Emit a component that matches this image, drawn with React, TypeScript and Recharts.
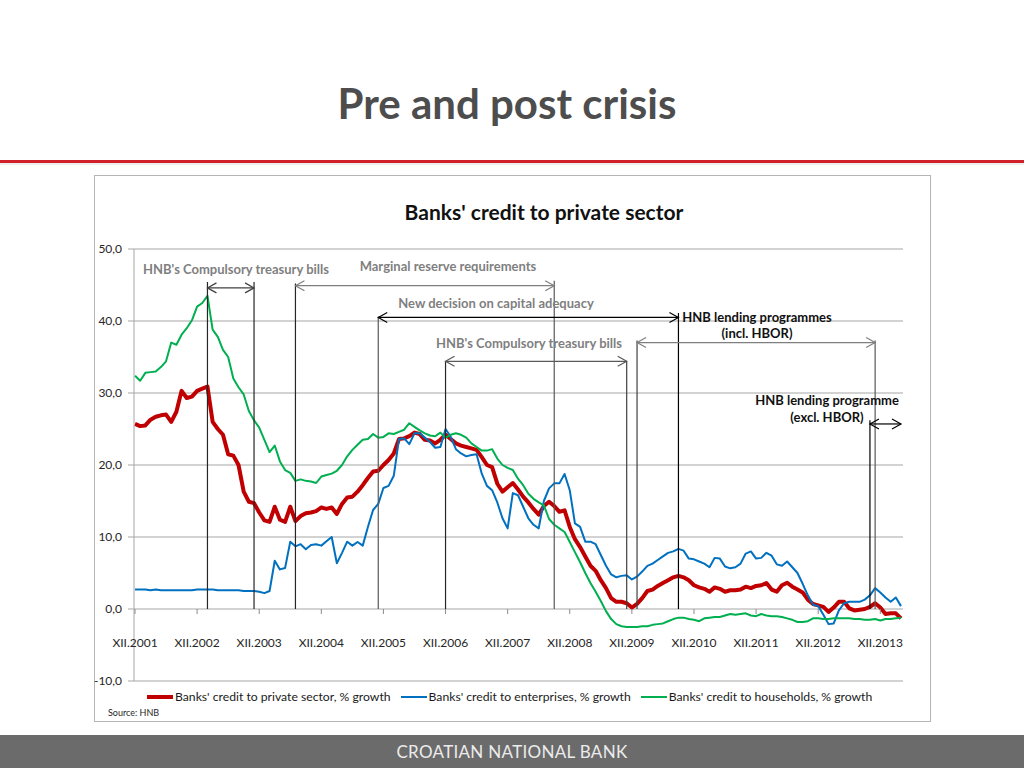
import React from "react";
import { CartesianGrid, Line, LineChart, ReferenceLine, XAxis, YAxis } from "recharts";

const ROMAN = ["I", "II", "III", "IV", "V", "VI", "VII", "VIII", "IX", "X", "XI", "XII"];

// monthly, XII.2001 .. IV.2014 (one row per 12 months)
const categories: string[] = [];
for (let i = 0; i < 149; i++) {
  categories.push(`${ROMAN[(11 + i) % 12]}.${2001 + Math.floor((11 + i) / 12)}`);
}
const xTicks = categories.filter((c) => c.startsWith("XII."));

const privateSector = [
  25.7, 25.4, 25.5, 26.3, 26.7, 26.9, 27.0, 26.0, 27.4, 30.3, 29.3, 29.5,
  30.3, 30.6, 30.9, 26.0, 25.0, 24.2, 21.5, 21.3, 20.0, 16.3, 14.9, 14.7,
  13.4, 12.3, 12.1, 14.2, 12.4, 12.1, 14.2, 12.2, 12.9, 13.3, 13.4, 13.6,
  14.1, 13.9, 14.1, 13.2, 14.6, 15.5, 15.6, 16.3, 17.2, 18.2, 19.1, 19.2,
  20.0, 20.7, 21.6, 23.6, 23.7, 24.0, 24.5, 24.3, 23.5, 23.4, 23.0, 23.5,
  24.2, 23.6, 23.0, 22.7, 22.5, 22.3, 22.1, 21.1, 20.0, 19.7, 17.4, 16.3,
  16.9, 17.5, 16.6, 15.6, 14.8, 13.9, 13.1, 14.3, 14.9, 14.3, 13.5, 13.7,
  11.4, 9.7, 8.6, 7.3, 6.0, 5.3, 4.0, 2.9, 1.5, 1.0, 1.0, 0.8,
  0.2, 0.7, 1.5, 2.5, 2.7, 3.2, 3.6, 4.0, 4.4, 4.6, 4.4, 4.0,
  3.3, 3.0, 2.8, 2.4, 3.0, 2.8, 2.4, 2.6, 2.6, 2.7, 3.1, 2.9,
  3.2, 3.3, 3.6, 2.7, 2.4, 3.3, 3.65, 3.1, 2.7, 2.3, 1.3, 0.7,
  0.5, 0.3, -0.4, 0.2, 1.0, 1.0, 0.1, -0.2, -0.1, 0.0, 0.3, 0.8,
  0.2, -0.7, -0.6, -0.6, -1.3,
];

const enterprises = [
  2.7, 2.7, 2.7, 2.6, 2.7, 2.6, 2.6, 2.6, 2.6, 2.6, 2.6, 2.6,
  2.7, 2.7, 2.7, 2.7, 2.6, 2.6, 2.6, 2.6, 2.6, 2.5, 2.5, 2.5,
  2.4, 2.2, 2.5, 6.7, 5.5, 5.7, 9.35, 8.7, 9.0, 8.3, 8.9, 9.0,
  8.8, 9.4, 10.0, 6.35, 7.8, 9.35, 8.8, 9.3, 8.8, 11.4, 13.75, 14.6,
  16.8, 17.1, 18.5, 23.6, 23.7, 22.9, 24.4, 24.4, 23.8, 23.2, 22.4, 22.5,
  25.0, 23.9, 22.2, 21.6, 21.2, 21.4, 21.5, 18.8, 17.1, 16.5, 14.8, 12.6,
  11.2, 16.1, 15.8, 14.2, 12.6, 11.7, 11.2, 15.0, 16.75, 17.45, 17.45, 18.75,
  16.5, 11.9, 11.4, 9.35, 9.35, 9.0, 7.5, 6.0, 4.8, 4.4, 4.6, 4.7,
  4.1, 4.5, 5.2, 6.0, 6.3, 6.8, 7.3, 7.8, 8.0, 8.35, 8.1, 7.0,
  6.9, 6.6, 6.3, 5.8, 7.1, 7.0, 5.9, 5.65, 5.8, 6.3, 7.7, 8.0,
  7.0, 7.1, 7.8, 7.4, 6.2, 6.0, 6.6, 5.8, 5.0, 3.5, 1.9, 0.6,
  0.4, -0.8, -2.1, -2.0, -0.2, 0.8, 1.0, 1.0, 1.0, 1.3, 1.9, 2.9,
  2.3, 1.6, 1.0, 1.6, 0.4,
];

const households = [
  32.4, 31.7, 32.8, 32.9, 33.0, 33.6, 34.4, 37.0, 36.7, 38.1, 39.0, 40.1,
  42.0, 42.5, 43.5, 38.8, 37.8, 36.0, 35.0, 32.0, 30.8, 29.8, 27.5, 26.2,
  25.2, 23.5, 21.8, 22.7, 20.5, 19.3, 18.9, 17.8, 18.0, 17.8, 17.7, 17.5,
  18.4, 18.6, 18.8, 19.2, 20.0, 21.2, 22.1, 22.8, 23.5, 23.6, 24.3, 23.8,
  23.9, 24.4, 24.3, 24.6, 24.9, 25.8, 25.3, 24.8, 24.4, 24.1, 24.0, 24.5,
  23.8, 24.2, 24.4, 24.2, 23.8, 23.0, 22.5, 22.0, 22.0, 22.2, 20.9, 20.0,
  19.6, 19.3, 18.1, 17.2, 16.0, 15.3, 14.8, 14.4, 12.5, 11.7, 11.2, 10.7,
  9.3, 7.9, 6.5, 5.0, 3.6, 2.4, 1.1, -0.3, -1.4, -2.1, -2.4, -2.5,
  -2.5, -2.5, -2.4, -2.4, -2.2, -2.1, -2.0, -1.7, -1.4, -1.2, -1.2, -1.4,
  -1.5, -1.7, -1.3, -1.2, -1.1, -1.1, -0.9, -0.7, -0.8, -0.7, -0.6, -0.9,
  -1.0, -0.7, -0.9, -1.0, -1.0, -1.1, -1.3, -1.5, -1.8, -1.8, -1.7, -1.3,
  -1.3, -1.4, -1.4, -1.3, -1.3, -1.3, -1.3, -1.4, -1.4, -1.5, -1.5, -1.4,
  -1.6, -1.4, -1.4, -1.3, -1.2,
];

const yTicks = [-10, 0, 10, 20, 30, 40, 50];

const series = [
  { key: "privateSector", name: "Banks' credit to private sector, % growth", color: "#c00000", width: 4 },
  { key: "enterprises", name: "Banks' credit to enterprises, % growth", color: "#0070c0", width: 2 },
  { key: "households", name: "Banks' credit to households, % growth", color: "#00b050", width: 2 },
];

// policy measures: vertical markers (month index, top value) and arrows spanning them
const markers = [
  { at: 14, top: 45.4, color: "#262626" },
  { at: 23, top: 45.4, color: "#262626" },
  { at: 31, top: 45.2, color: "#262626" },
  { at: 47, top: 40.6, color: "#595959" },
  { at: 60, top: 34.4, color: "#262626" },
  { at: 81, top: 45.6, color: "#595959" },
  { at: 95, top: 34.4, color: "#404040" },
  { at: 97, top: 37.3, color: "#404040" },
  { at: 105, top: 41.1, color: "#000000" },
  { at: 142, top: 26.2, color: "#000000" },
  { at: 143, top: 37.3, color: "#595959" },
];

const spans = [
  { from: 14, to: 23, level: 44.6, color: "#404040" },
  { from: 31, to: 81, level: 44.9, color: "#7f7f7f" },
  { from: 47, to: 105, level: 40.5, color: "#000000" },
  { from: 60, to: 95, level: 34.4, color: "#595959" },
  { from: 97, to: 143, level: 37.0, color: "#7f7f7f" },
  { from: 142, to: 148, level: 25.7, color: "#000000" },
];

const notes = [
  { text: "HNB's Compulsory treasury bills", x: 236, y: 269, color: "#7f7f7f" },
  { text: "Marginal reserve requirements", x: 448, y: 266, color: "#7f7f7f" },
  { text: "New decision on capital adequacy", x: 496, y: 303, color: "#7f7f7f" },
  { text: "HNB's Compulsory treasury bills", x: 529, y: 343, color: "#7f7f7f" },
  { text: "HNB lending programmes", x: 757, y: 317, color: "#111" },
  { text: "(incl. HBOR)", x: 757, y: 333, color: "#111" },
  { text: "HNB lending programme", x: 827, y: 400, color: "#111" },
  { text: "(excl. HBOR)", x: 827, y: 417, color: "#111" },
];

const data = categories.map((month, i) => ({
  month,
  privateSector: privateSector[i],
  enterprises: enterprises[i],
  households: households[i],
}));

const FONT = "Lato, 'Open Sans', sans-serif";
const PLOT_H = 432;
const ZERO_OFFSET = (PLOT_H * 10) / 60;

function MonthTick({ x, y, payload }: any) {
  const zeroY = y - ZERO_OFFSET;
  return (
    <g>
      <line x1={x} x2={x} y1={zeroY} y2={zeroY + 5} stroke="#8c8c8c" />
      <text x={x} y={zeroY + 33} textAnchor="middle" dominantBaseline="central" fontSize={12} fill="#262626" fontFamily={FONT}>
        {payload.value}
      </text>
    </g>
  );
}

function makeArrow(color: string) {
  return (p: any) => {
    const { x1, y1, x2 } = p;
    const y = y1;
    return (
      <g stroke={color} fill="none" strokeWidth={1.2}>
        <line x1={x1} x2={x2} y1={y} y2={y} />
        <polyline points={`${x1 + 9},${y - 5} ${x1},${y} ${x1 + 9},${y + 5}`} />
        <polyline points={`${x2 - 9},${y - 5} ${x2},${y} ${x2 - 9},${y + 5}`} />
      </g>
    );
  };
}

export default function App() {
  return (
    <div style={{ position: "absolute", left: 0, top: 0, width: 1024, height: 768, background: "#fff", fontFamily: FONT, overflow: "hidden" }}>
      <div style={{ position: "absolute", left: 0, width: 1024, top: 77, textAlign: "center", paddingRight: 10, boxSizing: "border-box", fontSize: 42, fontWeight: 700, color: "#4d4d4d", lineHeight: "52px" }}>
        Pre and post crisis
      </div>
      <div style={{ position: "absolute", left: 0, top: 160, width: 1024, height: 3, background: "#d0202a" }} />
      <div style={{ position: "absolute", left: 0, top: 163, width: 1024, height: 2, background: "#eeeeee" }} />

      <div style={{ position: "absolute", left: 94, top: 175, width: 835, height: 545, border: "1px solid #b5b5b5" }} />
      <div style={{ position: "absolute", left: 384, top: 199, width: 320, textAlign: "center", fontSize: 21, fontWeight: 700, color: "#111", lineHeight: "26px" }}>
        Banks' credit to private sector
      </div>

      <div style={{ position: "absolute", left: 94, top: 176 }}>
        <LineChart width={836} height={544} data={data} margin={{ top: 73, right: 27, bottom: 0, left: 0 }}>
          <CartesianGrid vertical={false} stroke="#a6a6a6" />
          <XAxis
            dataKey="month"
            ticks={xTicks}
            interval={0}
            axisLine={false}
            tickLine={false}
            tickSize={0}
            tickMargin={0}
            height={39}
            padding={{ left: 1, right: 2 }}
            tick={<MonthTick />}
          />
          <YAxis
            domain={[-10, 50]}
            ticks={yTicks}
            width={40}
            tickSize={6}
            tickMargin={6}
            axisLine={{ stroke: "#a6a6a6" }}
            tickLine={{ stroke: "#a6a6a6" }}
            tick={{ fontSize: 12, fill: "#262626", fontFamily: FONT }}
            tickFormatter={(v: number) => v.toFixed(1).replace(".", ",")}
          />
          {series.map((s) => (
            <Line
              key={s.key}
              dataKey={s.key}
              name={s.name}
              type="linear"
              stroke={s.color}
              strokeWidth={s.width}
              dot={false}
              isAnimationActive={false}
              strokeLinejoin="round"
            />
          ))}
          {markers.map((m, i) => (
            <ReferenceLine
              key={`m${i}`}
              segment={[
                { x: categories[m.at], y: 0 },
                { x: categories[m.at], y: m.top },
              ]}
              stroke={m.color}
              strokeWidth={1.2}
            />
          ))}
          {spans.map((s, i) => (
            <ReferenceLine
              key={`s${i}`}
              segment={[
                { x: categories[s.from], y: s.level },
                { x: categories[s.to], y: s.level },
              ]}
              shape={makeArrow(s.color)}
            />
          ))}
        </LineChart>
      </div>

      {notes.map((n, i) => (
        <div
          key={i}
          style={{ position: "absolute", left: n.x, top: n.y, transform: "translate(-50%, -50%)", whiteSpace: "nowrap", fontSize: 13, fontWeight: 700, color: n.color }}
        >
          {n.text}
        </div>
      ))}

      <div style={{ position: "absolute", left: 147, top: 689, display: "flex", alignItems: "center", gap: 10, fontSize: 12.2, color: "#1a1a1a", whiteSpace: "nowrap" }}>
        {series.map((s) => (
          <div key={s.key} style={{ display: "flex", alignItems: "center" }}>
            <span style={{ display: "inline-block", width: 26, height: s.width, background: s.color, marginRight: 2 }} />
            <span>{s.name}</span>
          </div>
        ))}
      </div>
      <div style={{ position: "absolute", left: 108, top: 707, fontSize: 9, color: "#262626" }}>Source: HNB</div>

      <div style={{ position: "absolute", left: 0, top: 735, width: 1024, height: 33, background: "#6b6b6b", color: "#ececec", textAlign: "center", fontSize: 17, lineHeight: "33px", letterSpacing: 0.3 }}>
        CROATIAN NATIONAL BANK
      </div>
    </div>
  );
}
